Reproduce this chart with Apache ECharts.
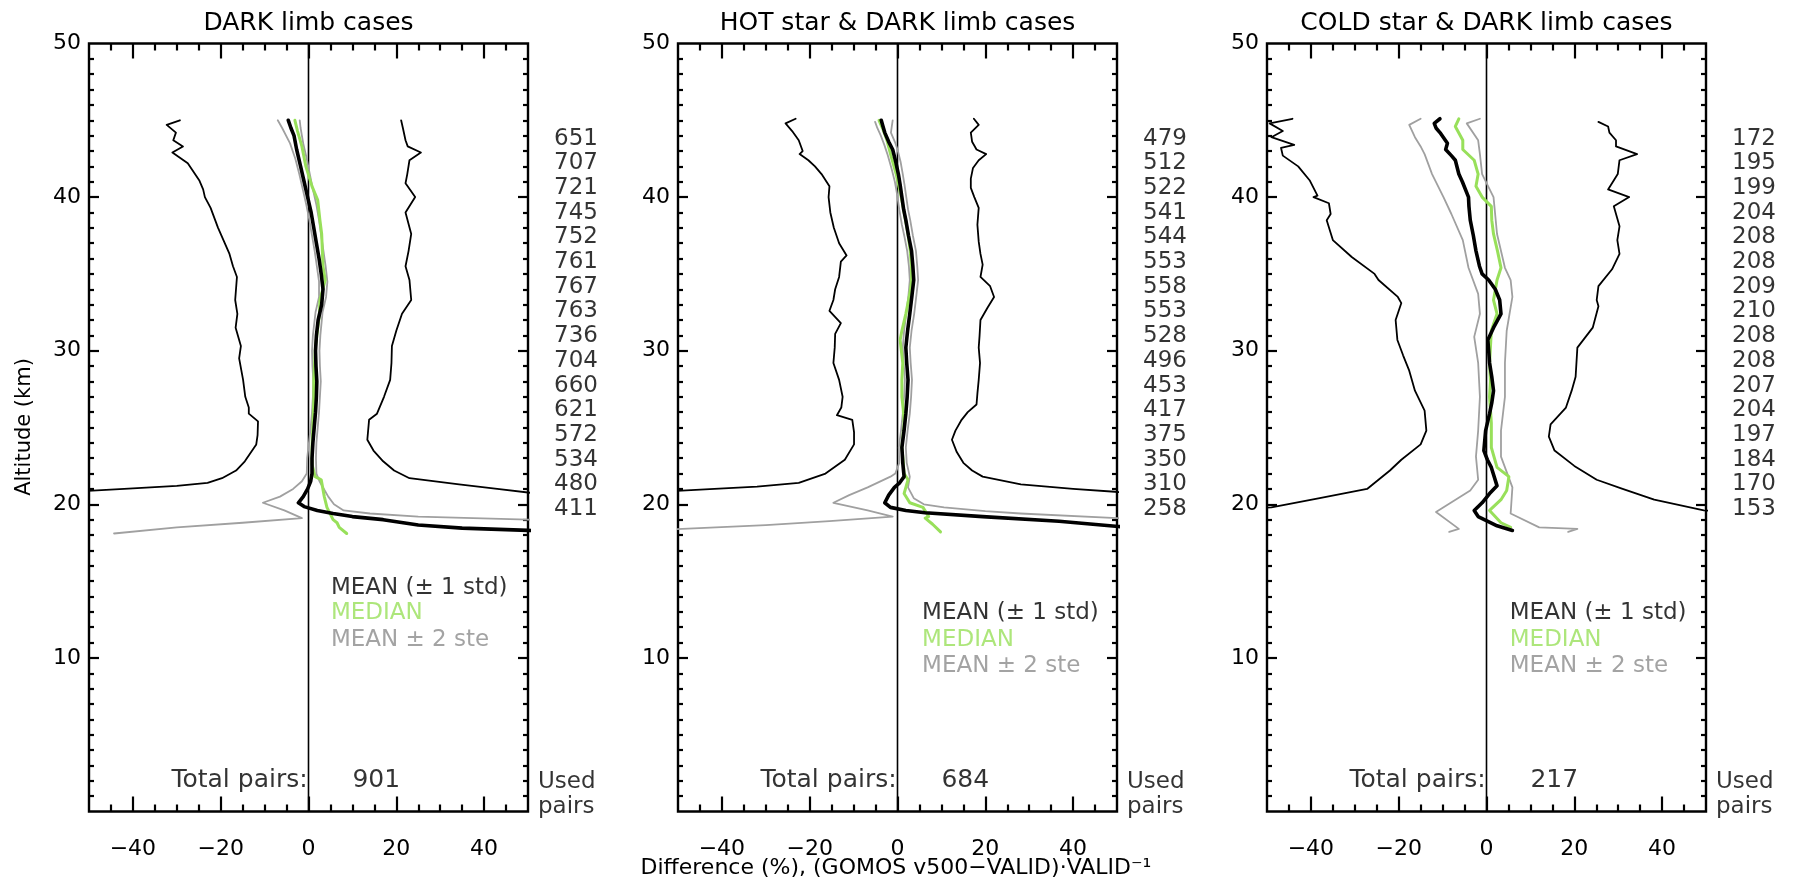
<!DOCTYPE html>
<html>
<head>
<meta charset="utf-8">
<script src="https://cdn.jsdelivr.net/npm/echarts@6/dist/echarts.min.js"></script>
<style>
html,body{margin:0;padding:0;background:#fff;}
#chart{width:1796px;height:882px;}
</style>
</head>
<body>
<div id="chart"></div>
<script>
// ---------------- DATA ----------------
const panelTitles = ['DARK limb cases', 'HOT star & DARK limb cases', 'COLD star & DARK limb cases'];
const totalPairs = [901, 684, 217];
const usedPairsP1 = [651,707,721,745,752,761,767,763,736,704,660,621,572,534,480,411];
const usedPairsP2 = [479,512,522,541,544,553,558,553,528,496,453,417,375,350,310,258];
const usedPairsP3 = [172,195,199,204,208,208,209,210,208,208,207,204,197,184,170,153];
const xMajorTicks = [-40,-20,0,20,40];
const xMinorTicks = [-45,-35,-30,-25,-15,-10,-5,5,10,15,25,30,35,45];
const yMajorTicks = [10,20,30,40];
const yTickLabels = [10,20,30,40,50];
const yMinorTicks = [1,2,3,4,5,6,7,8,9,11,12,13,14,15,16,17,18,19,21,22,23,24,25,26,27,28,29,31,32,33,34,35,36,37,38,39,41,42,43,44,45,46,47,48,49];
const legendLabels = ['MEAN (\u00b1 1 std)', 'MEDIAN', 'MEAN \u00b1 2 ste'];
const zeroLine = [[0,0],[0,50]];

// Each series: [difference %, altitude km]
// Panel 1: DARK limb
const p1Mean = [[-4.6,45.0],[-4.0,44.5],[-3.3,44.0],[-2.7,43.1],[-1.8,42.0],[-1.0,41.0],[-0.2,40.0],[0.6,39.0],[1.2,38.0],[1.8,37.0],[2.4,36.0],[2.9,35.0],[3.3,34.0],[3.0,33.0],[2.2,32.0],[1.8,31.0],[1.6,30.0],[1.7,29.0],[1.9,28.0],[1.8,27.0],[1.6,26.0],[1.3,25.0],[1.0,24.0],[0.8,23.0],[0.8,22.0],[0.5,21.5],[-0.2,21.0],[-1.2,20.5],[-2.3,20.1],[-1.0,19.85],[2.0,19.6],[5.6,19.4],[10.0,19.2],[17.0,19.0],[25.0,18.65],[35.0,18.45],[50.0,18.3],[55.0,18.25]];
const p1StdLo = [[-29.3,45.0],[-32.3,44.7],[-30.2,44.2],[-30.8,43.7],[-28.6,43.3],[-31.0,42.9],[-27.5,42.2],[-24.9,41.1],[-24.0,40.5],[-23.6,40.0],[-22.3,39.3],[-20.6,38.0],[-18.0,36.3],[-17.2,35.5],[-16.3,34.8],[-16.7,33.3],[-16.2,32.4],[-16.6,31.5],[-15.4,30.3],[-15.8,29.5],[-14.9,28.1],[-14.4,27.0],[-13.6,26.3],[-13.6,25.9],[-11.5,25.4],[-11.6,24.5],[-11.9,23.9],[-14.5,22.8],[-16.5,22.2],[-19.7,21.7],[-23.0,21.4],[-30.0,21.2],[-42.0,21.0],[-55.0,20.8]];
const p1StdHi = [[21.1,45.0],[21.5,44.5],[22.1,43.7],[22.6,43.3],[25.6,42.9],[23.0,42.4],[22.5,41.5],[22.1,40.9],[24.3,40.0],[22.1,39.0],[23.4,37.6],[22.8,36.5],[22.1,35.5],[23.0,34.6],[23.4,33.3],[21.3,32.4],[20.0,31.3],[19.0,30.3],[18.9,29.2],[18.6,28.1],[17.2,27.0],[15.6,25.9],[13.8,25.5],[13.4,24.2],[14.8,23.5],[17.0,22.8],[19.5,22.2],[23.0,21.7],[34.3,21.3],[43.0,21.0],[52.0,20.7]];
const p1Median = [[-3.1,45.0],[-2.5,44.3],[-1.5,43.3],[-0.6,42.0],[0.8,40.7],[2.1,39.8],[2.6,38.5],[3.0,37.6],[3.3,35.5],[3.8,34.6],[2.6,33.3],[2.5,32.4],[1.6,30.3],[1.2,28.1],[1.2,26.8],[1.1,25.9],[0.8,23.7],[0.8,22.6],[1.5,21.8],[2.9,21.6],[3.6,20.5],[4.2,19.8],[5.6,19.0],[6.5,18.8],[7.0,18.5],[8.7,18.1]];
const p1SteLo = [[-7.0,45.0],[-6.0,44.5],[-4.2,43.5],[-3.0,42.5],[-2.1,41.5],[-1.3,40.5],[-0.5,39.5],[0.2,38.5],[0.8,37.5],[1.4,36.5],[1.9,35.5],[2.4,34.5],[2.4,33.5],[1.6,32.5],[1.0,31.0],[0.8,30.0],[0.9,29.0],[1.1,28.0],[1.0,27.0],[0.8,26.0],[0.5,25.0],[0.1,24.0],[-0.3,23.0],[-0.4,22.0],[-1.5,21.5],[-3.5,21.0],[-6.5,20.5],[-10.4,20.1],[-5.5,19.6],[-1.5,19.1],[-15.0,18.8],[-30.0,18.5],[-44.3,18.1]];
const p1SteHi = [[-2.0,45.0],[-1.8,44.5],[-1.2,43.5],[-0.4,42.5],[0.3,41.5],[1.0,40.5],[1.8,39.5],[2.4,38.5],[2.9,37.5],[3.4,36.5],[3.9,35.5],[4.3,34.5],[4.0,33.5],[3.2,32.5],[2.7,31.0],[2.5,30.0],[2.6,29.0],[2.8,28.0],[2.6,27.0],[2.4,26.0],[2.1,25.0],[1.8,24.0],[1.7,23.0],[1.8,22.0],[2.5,21.5],[3.5,21.0],[4.5,20.5],[5.8,20.0],[8.0,19.6],[14.0,19.4],[25.0,19.2],[50.0,19.0],[55.0,18.95]];

// Panel 2: HOT star & DARK limb
const p2Mean = [[-3.7,45.0],[-3.3,44.6],[-2.9,44.2],[-2.0,43.6],[-1.1,43.1],[-0.4,42.3],[0.2,41.5],[0.6,40.8],[1.0,40.0],[1.4,39.2],[1.9,38.5],[2.5,37.5],[3.2,36.5],[3.5,35.5],[3.7,34.6],[3.3,33.6],[2.8,32.4],[2.3,31.3],[1.9,30.2],[2.1,29.2],[2.4,28.1],[2.2,27.0],[1.9,25.9],[1.5,24.8],[1.0,23.7],[1.2,22.7],[1.5,21.8],[0.5,21.4],[-0.7,21.1],[-2.0,20.6],[-2.9,20.1],[-1.6,19.8],[1.9,19.6],[6.3,19.45],[19.4,19.2],[36.8,18.9],[50.3,18.55],[55.0,18.5]];
const p2StdLo = [[-23.2,45.1],[-25.5,44.8],[-24.0,44.3],[-22.5,43.7],[-21.6,43.0],[-22.3,42.8],[-20.3,42.4],[-18.8,42.0],[-17.3,41.5],[-15.5,40.7],[-15.7,40.0],[-15.3,39.0],[-14.5,38.0],[-13.3,37.0],[-11.6,36.2],[-12.9,35.8],[-13.3,34.8],[-14.2,34.0],[-14.6,33.3],[-15.5,32.6],[-12.9,31.8],[-14.2,31.1],[-14.3,30.2],[-14.6,29.2],[-13.3,28.1],[-12.5,27.0],[-12.8,26.3],[-13.8,25.8],[-10.3,25.5],[-9.9,24.7],[-9.9,23.9],[-12.0,22.9],[-16.4,22.0],[-22.5,21.4],[-32.0,21.15],[-41.7,21.0],[-52.0,20.85]];
const p2StdHi = [[17.4,45.1],[18.5,44.7],[16.7,44.2],[17.0,43.6],[18.0,43.1],[20.2,42.8],[18.5,42.4],[17.2,41.9],[16.7,41.2],[16.7,40.6],[17.5,40.0],[18.5,39.3],[18.2,38.2],[18.5,37.1],[18.9,36.3],[19.4,35.6],[18.9,34.8],[21.1,34.2],[22.0,33.5],[20.5,32.8],[18.9,32.0],[18.7,31.0],[18.5,30.2],[18.8,29.2],[18.5,28.1],[18.2,27.2],[18.0,26.5],[16.0,26.0],[14.6,25.5],[13.2,24.8],[12.4,24.2],[13.5,23.4],[15.0,22.7],[17.0,22.2],[19.4,21.8],[28.1,21.3],[40.0,21.0],[50.3,20.8],[55.0,20.75]];
const p2Median = [[-4.2,45.0],[-3.3,44.4],[-2.4,43.7],[-1.4,42.6],[-0.3,41.5],[0.4,40.6],[1.0,39.8],[1.7,38.7],[2.4,37.6],[2.9,36.5],[3.2,35.4],[3.2,34.5],[2.8,33.7],[1.9,32.4],[1.0,31.3],[0.6,30.7],[1.2,29.2],[1.0,28.1],[1.0,27.0],[1.3,26.2],[1.5,25.3],[1.0,23.7],[1.3,22.8],[1.5,22.0],[2.4,21.6],[1.5,20.7],[2.8,20.1],[5.8,19.8],[7.1,19.2],[6.3,19.1],[8.0,18.7],[9.8,18.2]];
const p2SteLo = [[-5.1,44.9],[-4.6,44.5],[-3.8,44.0],[-3.0,43.4],[-2.3,42.8],[-1.3,41.8],[-0.6,41.0],[-0.1,40.2],[0.4,39.2],[1.0,38.2],[1.6,37.4],[2.2,36.5],[2.6,35.5],[2.8,34.6],[2.5,33.6],[2.0,32.4],[1.5,31.3],[1.2,30.2],[1.4,29.2],[1.7,28.1],[1.5,27.0],[1.2,25.9],[0.8,24.8],[0.3,23.7],[0.4,22.7],[-0.5,22.0],[-1.6,21.8],[-6.8,21.1],[-11.0,20.6],[-14.6,20.1],[-6.8,19.6],[-1.1,19.2],[-15.5,18.9],[-30.0,18.65],[-49.0,18.4],[-55.0,18.35]];
const p2SteHi = [[-1.1,45.0],[-1.3,44.6],[-1.5,44.2],[-0.6,43.6],[0.0,43.1],[0.7,42.3],[1.2,41.5],[1.6,40.8],[2.0,40.0],[2.4,39.2],[2.9,38.5],[3.5,37.5],[4.2,36.5],[4.5,35.5],[4.7,34.6],[4.3,33.6],[3.8,32.4],[3.2,31.3],[2.8,30.2],[3.0,29.2],[3.3,28.1],[3.1,27.0],[2.8,25.9],[2.3,24.8],[1.9,23.7],[2.1,22.7],[2.8,21.8],[2.4,21.1],[3.7,20.4],[6.0,20.0],[10.6,19.8],[20.0,19.55],[28.0,19.4],[50.0,19.1],[55.0,19.05]];

// Panel 3: COLD star & DARK limb
const p3Mean = [[-10.6,45.1],[-11.9,44.8],[-11.5,44.5],[-10.6,44.2],[-8.9,43.5],[-9.3,43.1],[-8.0,42.7],[-7.1,42.4],[-6.3,41.5],[-5.5,41.0],[-4.1,40.0],[-4.0,39.4],[-3.7,38.5],[-3.0,37.5],[-2.4,36.5],[-1.6,35.5],[-1.0,35.0],[0.5,34.6],[2.0,34.0],[3.0,33.3],[3.3,32.4],[1.6,31.5],[0.3,30.7],[0.5,30.0],[0.7,29.2],[1.2,28.3],[1.6,27.4],[1.2,26.6],[0.7,25.9],[-0.2,24.8],[-0.6,23.5],[0.2,22.9],[1.1,22.4],[2.4,21.2],[0.7,20.7],[-1.0,20.1],[-2.8,19.6],[-1.9,19.2],[2.4,18.6],[5.9,18.3]];
const p3StdLo = [[-44.2,45.1],[-49.4,44.8],[-46.4,44.3],[-49.0,43.9],[-43.8,43.4],[-46.8,43.2],[-46.4,42.7],[-42.9,42.0],[-40.3,41.1],[-38.5,40.1],[-39.4,40.0],[-35.9,39.6],[-35.5,38.9],[-36.4,38.5],[-35.0,37.2],[-30.7,36.1],[-25.5,35.0],[-24.6,34.6],[-20.2,33.5],[-19.4,33.1],[-20.7,32.0],[-20.3,30.7],[-19.0,29.7],[-17.6,28.7],[-16.3,27.4],[-14.1,26.1],[-13.7,24.8],[-15.0,23.9],[-19.4,22.9],[-22.0,22.2],[-24.6,21.6],[-27.2,21.0],[-38.0,20.4],[-49.0,19.8],[-55.0,19.7]];
const p3StdHi = [[25.5,44.9],[27.7,44.6],[28.0,44.2],[29.5,43.7],[29.5,43.3],[34.3,42.8],[30.3,42.4],[29.9,41.5],[27.7,40.5],[32.5,40.0],[29.0,39.4],[30.3,38.1],[29.8,37.2],[30.3,36.3],[28.6,35.3],[25.5,34.2],[25.1,33.3],[25.5,32.9],[24.2,31.5],[20.7,30.2],[20.3,28.3],[19.4,27.4],[18.1,26.3],[14.6,25.2],[14.2,24.4],[15.5,23.5],[20.0,22.5],[25.1,21.6],[31.0,21.0],[38.2,20.3],[49.5,19.6],[55.0,19.5]];
const p3Median = [[-6.3,45.1],[-7.1,44.6],[-5.4,43.7],[-5.4,43.1],[-2.8,42.4],[-1.9,41.5],[-2.4,40.7],[-1.0,40.0],[1.1,39.4],[1.2,38.5],[1.6,37.6],[2.5,36.5],[3.3,35.4],[2.4,34.6],[1.6,33.3],[2.4,32.4],[1.1,31.3],[0.7,29.2],[0.9,28.0],[0.7,27.0],[1.1,25.3],[1.1,23.7],[2.4,22.4],[5.1,21.8],[4.6,20.9],[3.3,20.3],[0.7,19.6],[3.3,18.8],[5.5,18.5]];
const p3SteLo = [[-15.0,45.1],[-17.6,44.7],[-16.3,43.9],[-15.0,43.3],[-14.1,42.8],[-12.4,41.5],[-9.8,40.0],[-8.0,38.9],[-5.4,37.2],[-4.1,35.4],[-1.9,33.7],[-1.5,32.4],[-2.8,30.9],[-1.9,29.2],[-1.5,27.0],[-1.9,24.8],[-2.4,23.1],[-1.9,21.6],[-3.7,20.9],[-11.5,19.5],[-6.3,18.4],[-8.5,18.2]];
const p3SteHi = [[-1.5,45.1],[-4.5,44.8],[-1.9,43.7],[-1.5,42.8],[-1.0,41.5],[1.6,40.0],[2.4,37.6],[4.2,35.4],[5.5,34.6],[5.9,33.5],[4.6,31.3],[4.2,29.2],[4.2,27.0],[3.3,24.8],[3.3,23.1],[5.9,21.1],[5.5,19.4],[12.0,18.5],[20.7,18.4],[18.6,18.2]];

// ---------------- LAYOUT / STYLE ----------------
const F = 'DejaVu Sans';
const GREEN = '#98e05a';
const GRAY_LINE = '#a0a0a0';
const GRAY_TEXT = '#8c8c8c';
const TICK = '#000';
const gridLefts = [89, 678, 1267];
const gridTop = 43.5, gridW = 439, gridH = 768;
const legendX = [5.1, 5.6, 5.3];
const legendAlts = [[14.53, 12.9, 11.14], [12.9, 11.14, 9.45], [12.9, 11.14, 9.45]];
const pairsAltTop = 43.8, pairsAltStep = 1.607;

const panels = [
  {mean:p1Mean, stdLo:p1StdLo, stdHi:p1StdHi, median:p1Median, steLo:p1SteLo, steHi:p1SteHi, used:usedPairsP1},
  {mean:p2Mean, stdLo:p2StdLo, stdHi:p2StdHi, median:p2Median, steLo:p2SteLo, steHi:p2SteHi, used:usedPairsP2},
  {mean:p3Mean, stdLo:p3StdLo, stdHi:p3StdHi, median:p3Median, steLo:p3SteLo, steHi:p3SteHi, used:usedPairsP3}
];

const fmtNum = v => (v < 0 ? '\u2212' + Math.abs(v) : '' + v);

const grid = [], xAxis = [], yAxis = [], series = [], graphic = [];

function mkX(gi, pos, ticks, len, labels) {
  return {
    gridIndex: gi, type: 'value', position: pos, min: -50, max: 50,
    axisLine: {show: false, onZero: false}, splitLine: {show: false},
    axisTick: {show: true, inside: true, length: len, customValues: ticks, lineStyle: {color: TICK, width: 2.2}},
    axisLabel: labels ? {show: true, customValues: xMajorTicks, margin: 27, color: '#000', fontSize: 22, fontFamily: F, formatter: fmtNum} : {show: false}
  };
}
function mkY(gi, pos, ticks, len, labels) {
  return {
    gridIndex: gi, type: 'value', position: pos, min: 0, max: 50,
    axisLine: {show: false, onZero: false}, splitLine: {show: false},
    axisTick: {show: true, inside: true, length: len, customValues: ticks, lineStyle: {color: TICK, width: 2.2}},
    axisLabel: labels ? {show: true, customValues: yTickLabels, margin: 8, color: '#000', fontSize: 22, fontFamily: F} : {show: false}
  };
}
function lineSeries(gi, data, color, width, z) {
  return {
    type: 'line', xAxisIndex: gi * 4, yAxisIndex: gi * 4, data: data,
    showSymbol: false, symbol: 'none', clip: true, silent: true, z: z,
    lineStyle: {color: color, width: width, join: 'round', cap: 'round'}, animation: false
  };
}
function txt(x, y, text, color, pos, dist, size) {
  return {value: [x, y], label: {show: true, position: pos, distance: dist, formatter: () => text,
    color: color, fontSize: size || 23, fontFamily: F}};
}

panels.forEach((p, gi) => {
  grid.push({left: gridLefts[gi], top: gridTop, width: gridW, height: gridH, show: true,
    borderColor: '#000', borderWidth: 2.4, backgroundColor: 'transparent'});
  xAxis.push(mkX(gi, 'bottom', xMajorTicks, 15, true));
  xAxis.push(mkX(gi, 'bottom', xMinorTicks, 7, false));
  xAxis.push(mkX(gi, 'top', xMajorTicks, 15, false));
  xAxis.push(mkX(gi, 'top', xMinorTicks, 7, false));
  yAxis.push(mkY(gi, 'left', yMajorTicks, 10, true));
  yAxis.push(mkY(gi, 'left', yMinorTicks, 5, false));
  yAxis.push(mkY(gi, 'right', yMajorTicks, 10, false));
  yAxis.push(mkY(gi, 'right', yMinorTicks, 5, false));

  series.push(lineSeries(gi, zeroLine, '#000', 1.6, 2));
  series.push(lineSeries(gi, p.stdLo, '#000', 1.8, 3));
  series.push(lineSeries(gi, p.stdHi, '#000', 1.8, 3));
  series.push(lineSeries(gi, p.steLo, GRAY_LINE, 1.8, 4));
  series.push(lineSeries(gi, p.steHi, GRAY_LINE, 1.8, 4));
  series.push(lineSeries(gi, p.median, GREEN, 3, 5));
  series.push(lineSeries(gi, p.mean, '#000', 3.6, 6));

  series.push({
    type: 'scatter', xAxisIndex: gi * 4, yAxisIndex: gi * 4, symbolSize: 0, silent: true, animation: false,
    data: p.used.map((v, i) => [50, pairsAltTop - i * pairsAltStep, v]),
    label: {show: true, position: 'right', distance: 26, formatter: q => q.value[2],
      color: '#000', fontSize: 23, fontFamily: F}
  });
  const la = legendAlts[gi];
  series.push({
    type: 'scatter', xAxisIndex: gi * 4, yAxisIndex: gi * 4, symbolSize: 0, silent: true, animation: false, z: 10,
    data: [
      txt(legendX[gi], la[0], legendLabels[0], '#000', 'right', 0),
      txt(legendX[gi], la[1], legendLabels[1], GREEN, 'right', 0),
      txt(legendX[gi], la[2], legendLabels[2], GRAY_TEXT, 'right', 0),
      txt(-0.2, 2.02, 'Total pairs:', '#000', 'left', 0, 25),
      txt(10, 2.02, '' + totalPairs[gi], '#000', 'right', 0, 25),
      txt(50, 1.89, 'Used', '#000', 'right', 10),
      txt(50, 0.26, 'pairs', '#000', 'right', 10)
    ]
  });

  graphic.push({type: 'text', x: gridLefts[gi] + gridW / 2, y: 23,
    style: {text: panelTitles[gi], fill: '#000', font: '25px "DejaVu Sans"', textAlign: 'center', textVerticalAlign: 'middle'}});
});

graphic.push({type: 'text', x: 896, y: 868,
  style: {text: 'Difference (%), (GOMOS v500\u2212VALID)\u00b7VALID\u207b\u00b9', fill: '#000', font: '22px "DejaVu Sans"', textAlign: 'center', textVerticalAlign: 'middle'}});
graphic.push({type: 'text', x: 25, y: 427, rotation: Math.PI / 2,
  style: {text: 'Altitude (km)', fill: '#000', font: '21px "DejaVu Sans"', textAlign: 'center', textVerticalAlign: 'middle'}});

const chart = echarts.init(document.getElementById('chart'), null, {renderer: 'canvas'});
chart.setOption({
  backgroundColor: '#fff',
  animation: false,
  grid: grid, xAxis: xAxis, yAxis: yAxis, series: series, graphic: graphic
});
</script>
</body>
</html>
